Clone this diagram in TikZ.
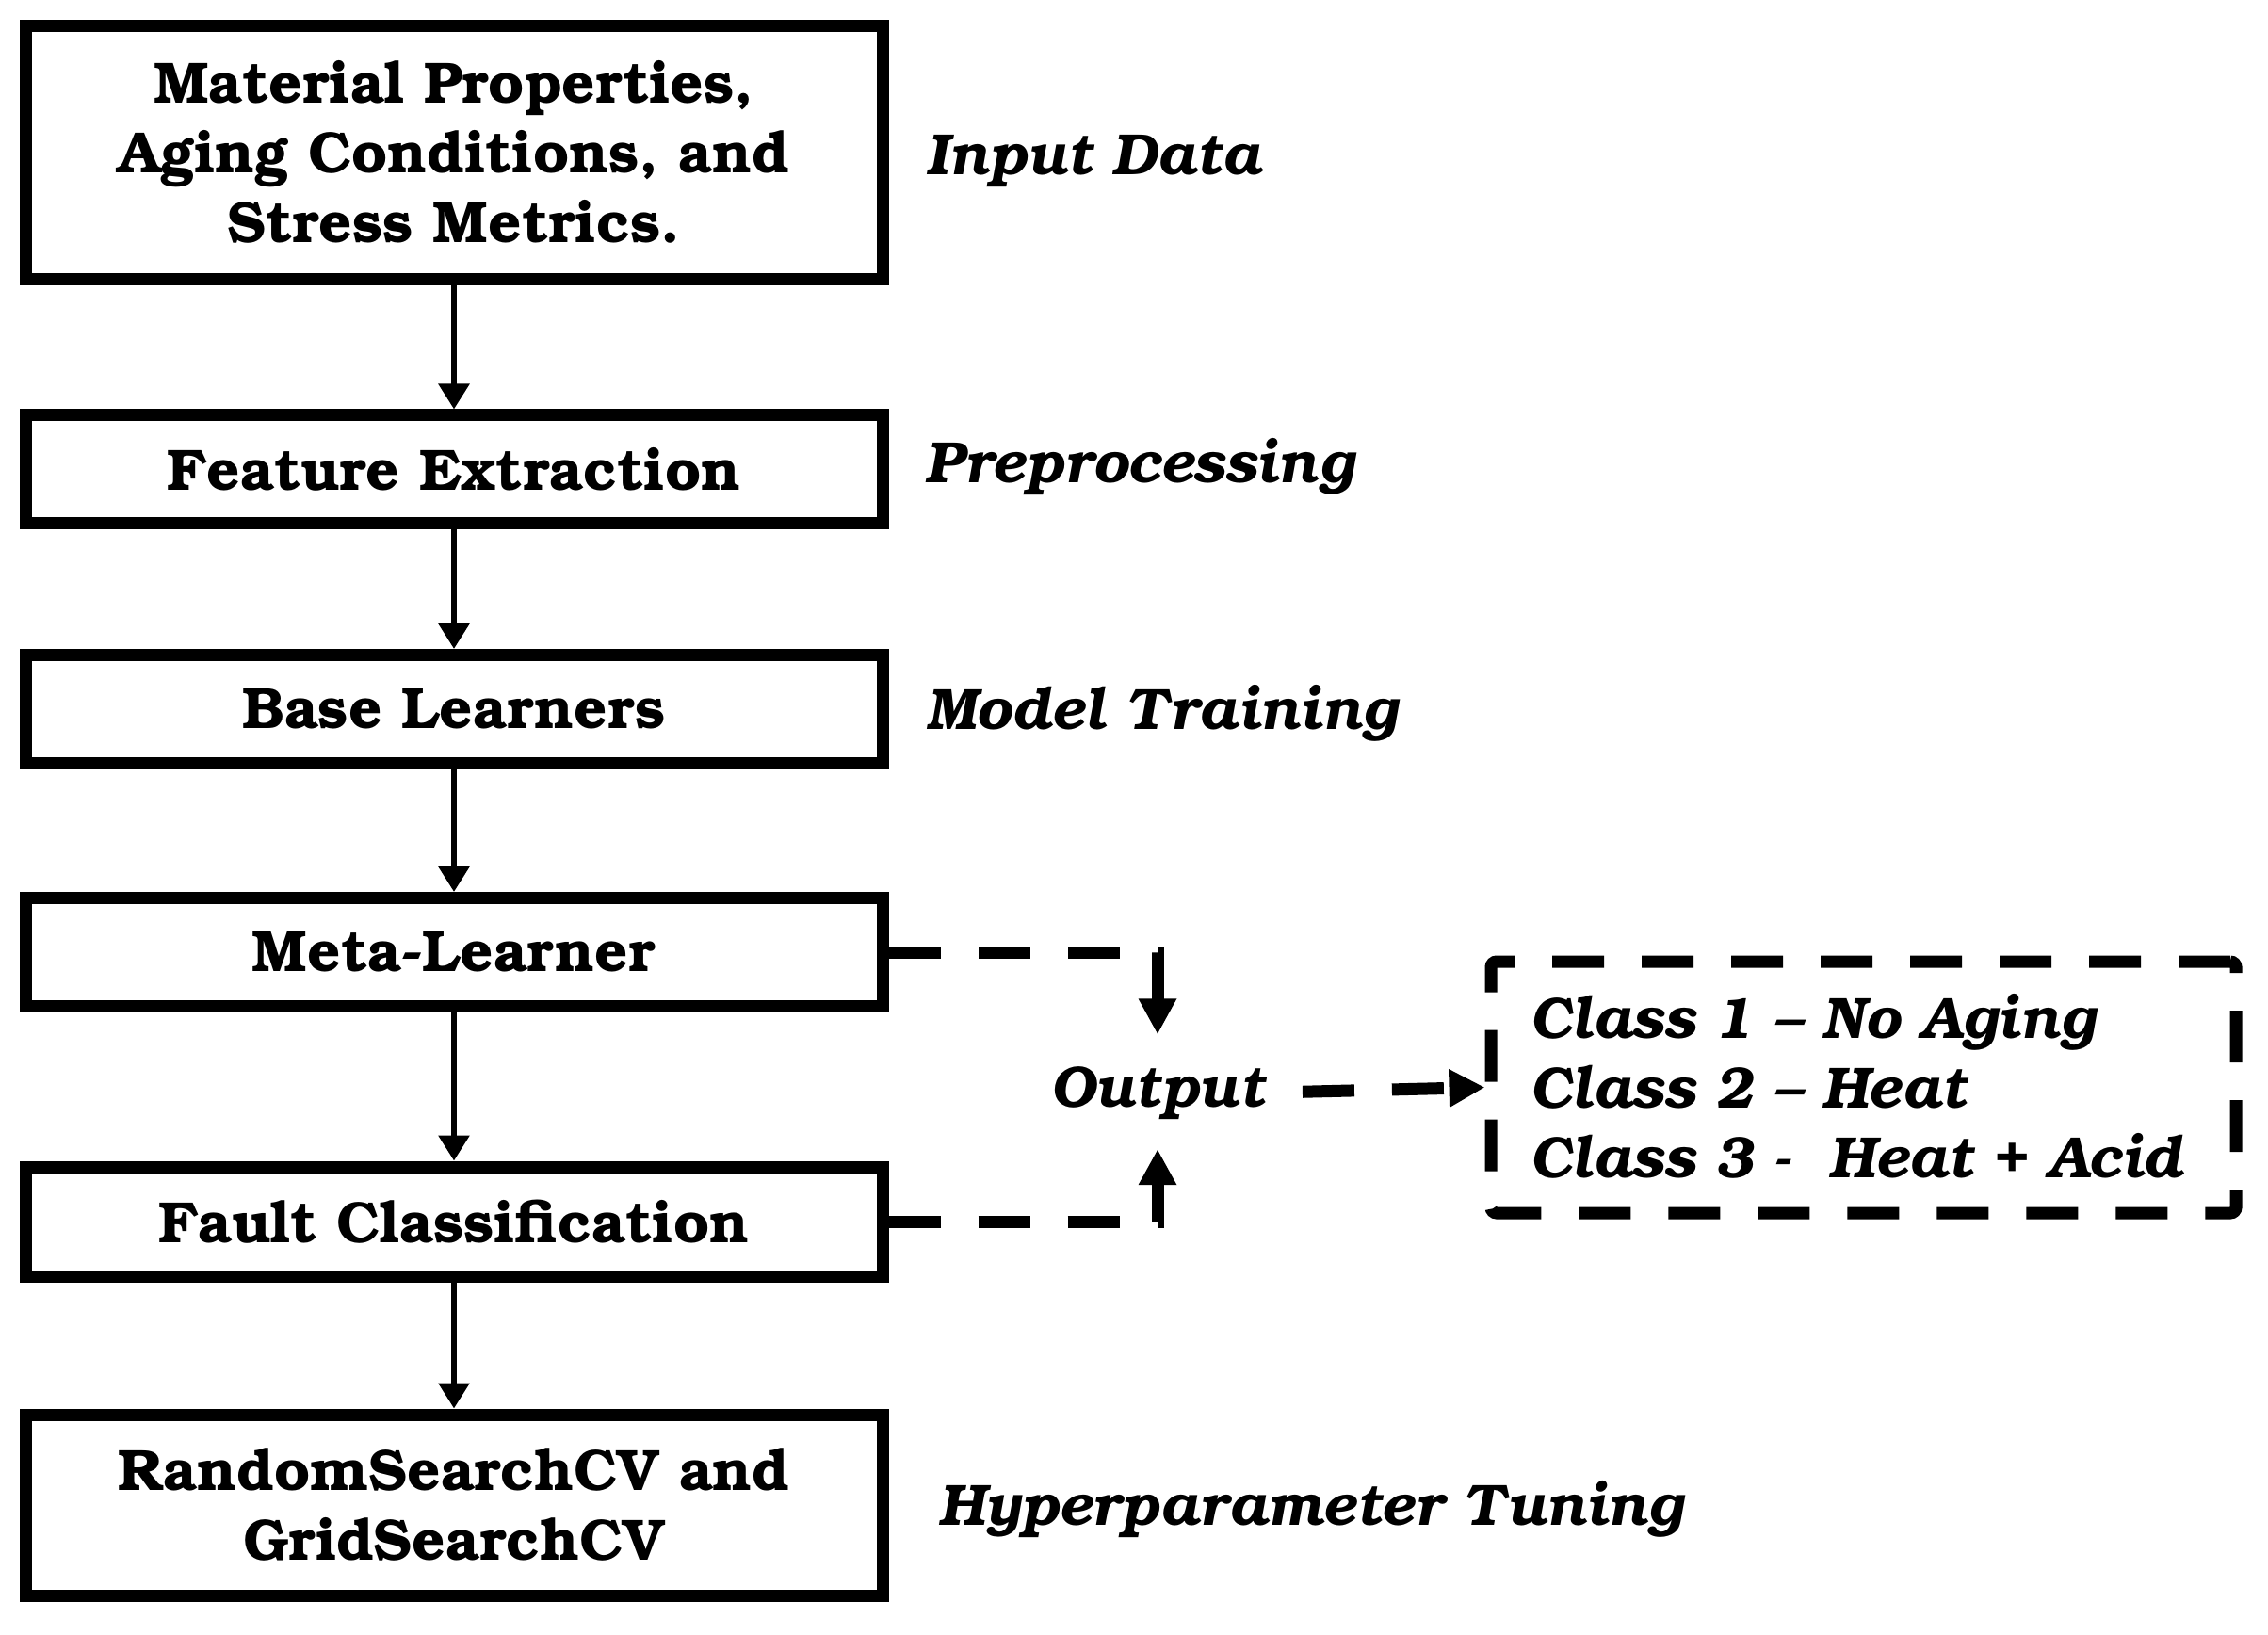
\documentclass[tikz,border=0pt]{standalone}
\usepackage[T1]{fontenc}
\usepackage{bookman}
\usetikzlibrary{arrows.meta}

\begin{document}
\begin{tikzpicture}[
        stage/.style={draw,line width=0.13cm,minimum width=9.1cm,align=center,font=\fontsize{17.6}{21}\selectfont\bfseries},
        phase/.style={anchor=west,inner xsep=0pt,font=\fontsize{17.6}{21}\selectfont\bfseries\itshape},
        flow/.style={line width=0.06cm,-{Triangle[length=0.27cm,width=0.32cm]}},
        outflow/.style={line width=0.13cm,dash pattern=on 0.55cm off 0.4cm,-{Triangle[length=0.38cm,width=0.38cm]}}
    ]
        \useasboundingbox (0,0) rectangle (24.08,-17.36);
        %% pipeline stages
        \node[stage,minimum height=2.69cm] (input) at (4.82,-1.625) {Material Properties,\\Aging Conditions, and\\Stress Metrics.};
        \node[stage,minimum height=1.15cm] (extract) at (4.82,-4.985) {Feature Extraction};
        \node[stage,minimum height=1.15cm] (base) at (4.82,-7.53) {Base Learners};
        \node[stage,minimum height=1.15cm] (meta) at (4.82,-10.11) {Meta-Learner};
        \node[stage,minimum height=1.16cm] (fault) at (4.82,-12.97) {Fault Classification};
        \node[stage,minimum height=1.92cm] (tuning) at (4.82,-15.98) {RandomSearchCV and\\GridSearchCV};
        %% phase names
        \node[phase] (inputlbl) at (9.83,-1.705) {Input Data};
        \node[phase] (extractlbl) at (9.83,-4.955) {Preprocessing};
        \node[phase] (trainlbl) at (9.83,-7.58) {Model Training};
        \node[phase] (tuninglbl) at (9.96,-16.03) {Hyperparameter Tuning};
        %% output and classes
        \node[font=\fontsize{17.6}{21}\selectfont\bfseries\itshape,inner xsep=0.4cm,inner ysep=0.32cm,anchor=base] (out) at (12.29,-11.75) {Output};
        \node[draw,line width=0.13cm,dash pattern=on 0.55cm off 0.4cm,rounded corners=0.06cm,minimum width=7.91cm,minimum height=2.67cm,text width=7.09cm,inner xsep=0.41cm,align=left,font=\fontsize{17.6}{21}\selectfont\bfseries\itshape] (classes) at (19.785,-11.545) {Class 1 -- No Aging\\Class 2 -- Heat\\Class 3 -\ \ Heat + Acid};
        %% connectors
        \draw[flow] (input) -- (extract);
        \draw[flow] (extract) -- (base);
        \draw[flow] (base) -- (meta);
        \draw[flow] (meta) -- (fault);
        \draw[flow] (fault) -- (tuning);
        \draw[outflow] (meta.east) -| (out.north);
        \draw[outflow] (fault.east) -| (out.south);
        \draw[outflow] (out.east) -- (classes.west);
    \end{tikzpicture}
\end{document}
